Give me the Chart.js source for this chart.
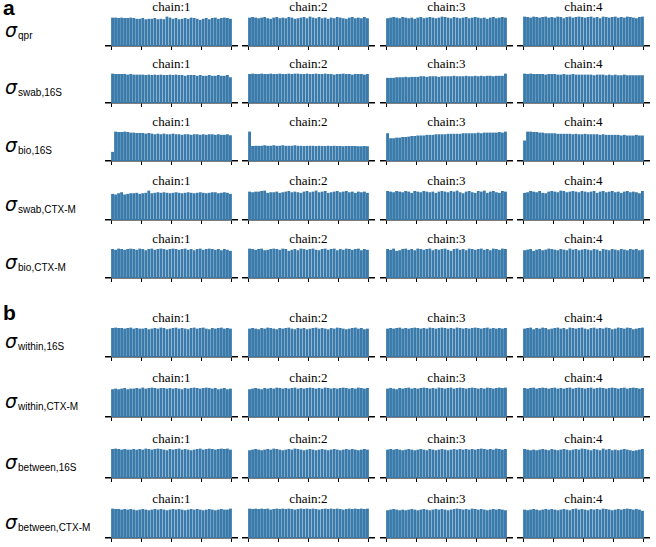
<!DOCTYPE html>
<html>
<head>
<meta charset="utf-8">
<script src="https://cdn.jsdelivr.net/npm/chart.js@4.4.0/dist/chart.umd.min.js"></script>
<style>
  body { margin: 0; background: #fff; }
  #fig { position: relative; width: 656px; height: 547px; overflow: hidden; }
  .panel-letter { position: absolute; font: bold 21px "Liberation Sans", Arial, sans-serif; line-height: 21px; }
  .ttl { position: absolute; text-align: center; font: 13px "Liberation Serif", "Times New Roman", serif; line-height: 16px; color: #000; }
  .rowlab { position: absolute; left: 5px; white-space: nowrap; line-height: 20px; }
  .rowlab .sig { font: italic 19px "DejaVu Sans", sans-serif; }
  .rowlab .sub { font: 10px "Liberation Sans", Arial, sans-serif; position: relative; top: 2px; margin-left: 1px; }
  canvas { position: absolute; }
</style>
</head>
<body>
<div id="fig"></div>
<script>
// rank histograms, 40 bins per chain, 4 chains per parameter
const chainNames = ["chain:1", "chain:2", "chain:3", "chain:4"];
const paramSubs = ["qpr", "swab,16S", "bio,16S", "swab,CTX-M", "bio,CTX-M",
  "within,16S", "within,CTX-M", "between,16S", "between,CTX-M"];
const binEdgeTicks = [0, 10, 20, 30, 40];

const rankQpr = [
  [52,52,51,52,51,51,52,51,50,50, 51,49,50,50,51,49,50,49,54,52, 50,51,49,50,51,50,52,51,50,48, 50,51,49,51,52,50,51,52,51,50],
  [51,52,51,50,51,52,50,49,51,52, 50,51,50,52,51,49,50,51,52,50, 53,51,50,52,50,51,49,51,50,52, 51,50,49,51,52,50,51,50,52,50],
  [50,51,52,51,50,52,51,50,51,49, 51,52,50,51,52,51,50,51,53,52, 51,50,52,51,50,51,52,50,51,52, 51,50,51,49,51,52,50,51,52,51],
  [52,51,50,52,51,50,51,52,50,51, 50,52,51,49,51,52,50,51,52,51, 50,51,52,50,51,49,52,51,50,51, 52,50,51,50,52,51,50,49,51,52]
];
const rankSwab16S = [
  [54,53,53,53,53,52,53,52,52,52, 52,51,52,51,52,51,52,51,51,52, 51,52,51,51,50,51,51,51,50,51, 50,50,51,50,50,51,50,50,51,47],
  [51,52,51,51,52,51,51,52,51,51, 52,51,51,52,51,52,52,51,51,52, 51,51,52,51,51,52,51,51,50,51, 51,52,51,51,50,51,51,51,50,51],
  [46,46,46,47,47,47,48,47,48,48, 48,49,49,48,49,49,49,48,49,49, 49,49,50,49,49,49,50,49,49,50, 49,50,49,50,50,49,50,50,50,54],
  [53,52,53,52,52,52,52,51,52,52, 52,51,51,52,51,51,52,51,51,51, 51,51,51,50,51,51,51,50,51,50, 51,50,50,51,50,50,50,50,50,50]
];
const rankBio16S = [
  [17,55,54,54,55,54,53,53,52,52, 52,51,52,51,50,51,50,51,50,50, 51,50,50,49,50,50,49,50,50,49, 50,49,50,50,49,50,49,49,50,48],
  [98,50,51,51,51,52,51,51,52,51, 51,52,51,51,51,52,51,51,50,51, 51,51,50,51,50,50,51,50,51,50, 50,49,50,50,50,50,49,49,50,49],
  [50,41,41,42,42,43,43,44,45,45, 46,46,46,47,47,47,48,48,48,48, 49,49,49,49,49,50,50,50,50,50, 51,50,51,51,51,51,51,52,51,53],
  [37,53,53,52,52,51,51,50,50,50, 50,49,49,49,49,49,48,49,48,48, 49,48,48,48,48,47,48,47,47,47, 47,47,46,47,46,46,46,47,46,46]
];
const rankSwabCTX = [
  [47,46,48,50,46,47,48,48,49,47, 48,49,53,48,49,50,49,50,49,48, 49,50,49,48,49,50,49,48,49,50, 49,48,49,50,50,48,49,50,49,47],
  [50,49,50,50,51,52,48,49,49,50, 48,49,50,51,49,50,49,48,50,51, 49,50,52,49,50,51,48,49,50,51, 49,50,51,49,50,48,50,49,50,48],
  [51,50,49,51,50,49,51,50,48,51, 50,49,51,50,49,50,48,50,51,50, 49,51,50,52,49,47,50,51,49,48, 51,50,52,48,50,51,49,48,51,50],
  [48,49,51,50,49,51,48,47,50,51, 50,49,52,51,49,50,51,50,49,51, 50,49,50,51,48,50,51,49,50,51, 49,50,48,50,51,49,50,49,47,51]
];
const rankBioCTX = [
  [50,49,51,50,49,50,51,50,49,51, 50,48,50,51,49,50,51,50,49,50, 51,50,49,50,51,49,50,48,50,51, 49,50,51,50,49,50,48,50,49,47],
  [51,50,49,50,51,48,49,50,51,50, 49,51,50,47,49,50,48,51,50,49, 50,51,49,48,50,51,49,50,51,48, 50,49,51,50,49,50,51,48,50,49],
  [50,49,51,47,48,50,51,49,50,48, 51,50,49,50,51,48,50,49,50,51, 49,47,50,51,49,50,48,51,50,49, 50,51,49,50,48,51,50,49,51,50],
  [49,50,51,48,50,51,49,50,52,51, 50,49,51,50,49,52,50,51,49,50, 51,50,49,51,50,48,51,50,49,51, 50,49,51,50,49,51,50,51,49,50]
];
const rankWithin16S = [
  [51,52,51,51,50,51,52,50,51,50, 50,51,49,50,51,50,52,51,49,50, 51,52,50,51,50,49,51,52,50,51, 52,50,49,51,50,51,52,50,51,50],
  [50,51,50,49,51,50,52,51,50,49, 51,50,51,52,50,49,51,50,51,49, 50,51,52,50,51,50,49,51,50,52, 51,50,49,50,51,52,50,51,49,50],
  [50,51,50,51,52,50,51,50,51,52, 51,50,51,50,52,51,50,51,52,51, 50,51,50,52,51,50,51,50,51,52, 51,50,51,52,50,51,50,51,50,51],
  [50,51,52,49,51,50,52,51,49,50, 51,52,50,51,49,52,51,50,51,52, 50,49,51,52,50,51,50,52,51,49, 50,52,51,50,52,51,49,50,51,52]
];
const rankWithinCTX = [
  [50,51,50,51,52,50,51,51,52,51, 53,51,52,53,52,51,52,52,51,52, 51,52,51,50,52,51,52,53,52,51, 52,53,52,51,52,50,51,52,50,51],
  [49,50,51,50,49,51,50,51,50,52, 51,50,51,50,51,52,50,51,50,51, 52,51,50,51,50,52,51,50,51,50, 51,52,51,50,51,50,52,51,50,51],
  [50,51,50,49,51,50,51,52,50,51, 50,51,52,51,50,51,50,52,51,50, 51,52,50,51,52,51,50,51,52,51, 50,51,50,52,51,50,51,52,51,52],
  [51,50,51,52,50,51,52,51,50,51, 52,50,51,50,51,52,50,51,52,51, 50,51,52,50,51,52,51,50,51,52, 51,50,51,52,50,51,52,51,50,51]
];
const rankBetween16S = [
  [51,52,51,50,51,50,50,51,50,51, 50,52,51,50,51,52,51,50,49,51, 50,51,52,50,51,50,49,50,51,52, 50,51,52,51,50,51,52,51,52,50],
  [50,51,52,51,50,51,52,51,53,52, 51,50,51,52,51,53,52,51,50,51, 52,51,50,51,52,51,50,51,52,51, 50,51,52,51,52,51,50,51,52,51],
  [51,52,51,52,51,50,51,52,51,50, 51,52,51,50,52,51,50,51,52,51, 50,51,52,51,52,51,52,51,52,51, 52,53,52,51,52,51,53,52,51,52],
  [52,51,50,51,50,51,52,51,50,52, 51,50,51,52,51,50,51,52,51,53, 52,51,50,52,51,50,53,51,52,50, 51,50,51,52,51,50,49,50,51,52]
];
const rankBetweenCTX = [
  [53,52,52,51,52,51,52,51,50,51, 52,51,50,51,52,51,52,51,50,51, 52,51,52,51,50,51,52,51,52,51, 50,51,52,51,50,51,52,51,51,53],
  [52,51,52,51,52,51,52,50,51,52, 51,52,51,52,51,50,51,52,51,52, 51,52,51,50,51,52,51,52,51,52, 51,50,51,52,51,52,51,52,51,52],
  [50,51,52,51,50,51,50,51,52,51, 50,51,52,51,50,51,52,51,52,51, 50,51,52,53,52,51,52,51,53,52, 51,52,51,50,51,52,51,52,51,50],
  [51,50,51,52,51,50,51,52,51,52, 51,50,51,52,51,50,52,53,51,52, 51,50,52,51,52,51,53,52,51,50, 51,52,51,52,53,52,51,52,51,49]
];

const allRanks = [rankQpr, rankSwab16S, rankBio16S, rankSwabCTX, rankBioCTX,
  rankWithin16S, rankWithinCTX, rankBetween16S, rankBetweenCTX];

// layout
const rowAxisY = [46, 103, 161, 220, 278, 357, 417, 478, 538];
const colLeft = [105, 242, 380, 517];
const PANEL_W = 133, AREA_H = 31, TICK_LEN = 4;
const BAR_COLOR = '#3a7bab';

const fig = document.getElementById('fig');

function addDiv(cls, text, css) {
  const d = document.createElement('div');
  d.className = cls;
  if (text !== null) d.textContent = text;
  Object.assign(d.style, css);
  fig.appendChild(d);
  return d;
}

addDiv('panel-letter', 'a', { left: '3px', top: '-3px' });
addDiv('panel-letter', 'b', { left: '3px', top: '302px' });

paramSubs.forEach((sub, r) => {
  const axisY = rowAxisY[r];
  const lab = addDiv('rowlab', null, { top: (axisY - 27) + 'px' });
  lab.innerHTML = '<span class="sig">σ</span><span class="sub"></span>';
  lab.querySelector('.sub').textContent = sub;

  chainNames.forEach((name, c) => {
    addDiv('ttl', name, {
      left: colLeft[c] + 'px', width: PANEL_W + 'px', top: (axisY - 47) + 'px'
    });

    const cv = document.createElement('canvas');
    cv.width = PANEL_W;
    cv.height = AREA_H + TICK_LEN;
    cv.style.left = colLeft[c] + 'px';
    cv.style.top = (axisY - AREA_H) + 'px';
    fig.appendChild(cv);

    const counts = allRanks[r][c];
    new Chart(cv, {
      type: 'bar',
      data: {
        datasets: [{
          data: counts.map((v, i) => ({ x: i + 0.5, y: v })),
          backgroundColor: BAR_COLOR,
          borderColor: 'rgba(255,255,255,0.25)',
          borderWidth: { left: 0.4, right: 0.4, top: 0, bottom: 0 },
          barPercentage: 1,
          categoryPercentage: 1
        }]
      },
      options: {
        responsive: false,
        animation: false,
        devicePixelRatio: 1,
        layout: { padding: 0 },
        plugins: { legend: { display: false }, tooltip: { enabled: false }, title: { display: false } },
        scales: {
          x: {
            type: 'linear',
            offset: false,
            min: -2,
            max: counts.length + 2,
            afterBuildTicks: (scale) => { scale.ticks = binEdgeTicks.map(v => ({ value: v })); },
            ticks: { display: false },
            grid: { display: true, offset: false, drawOnChartArea: false, drawTicks: true, tickLength: TICK_LEN, tickColor: '#000', tickWidth: 1 },
            border: { display: true, color: '#000', width: 1.5 }
          },
          y: {
            display: false,
            min: 0,
            max: Math.max(...counts) * 1.05
          }
        }
      }
    });
  });
});
</script>
</body>
</html>
